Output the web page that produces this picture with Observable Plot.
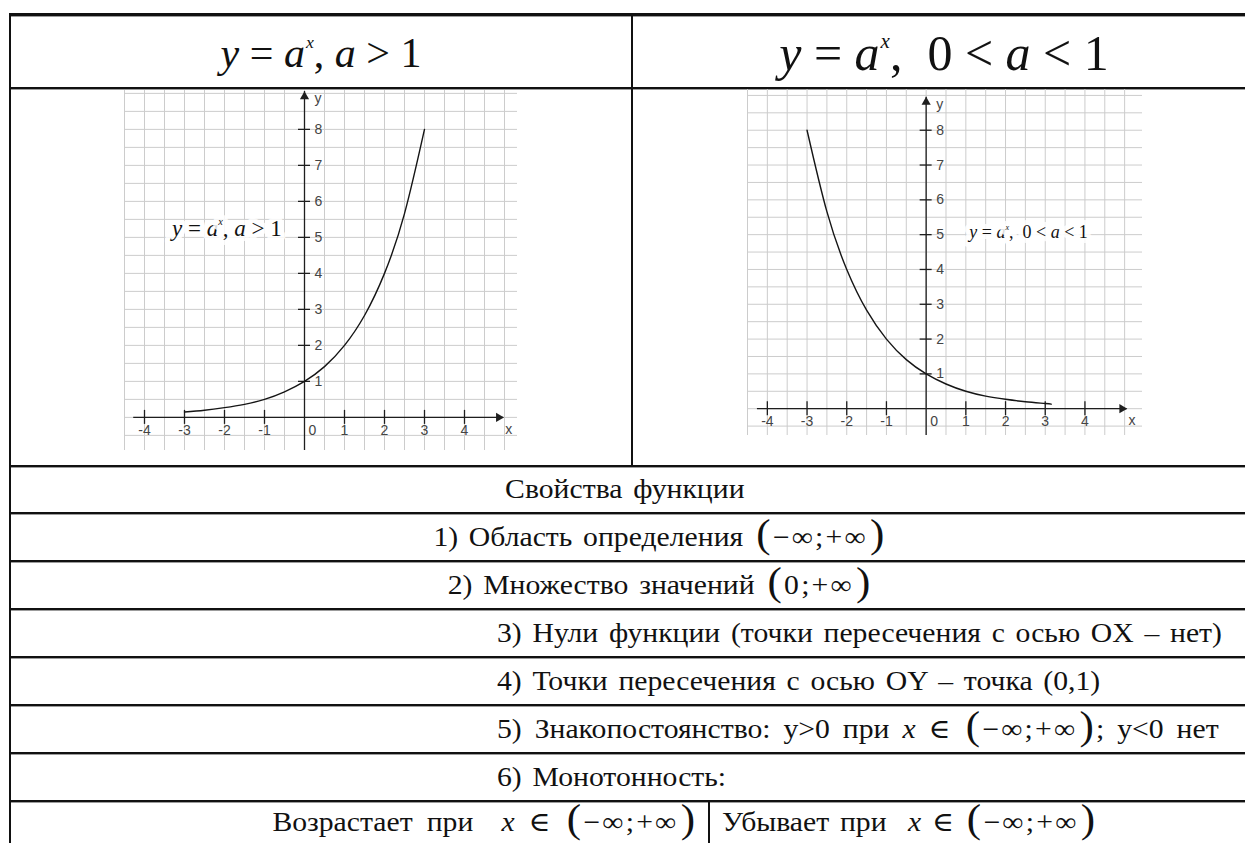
<!DOCTYPE html>
<html>
<head>
<meta charset="utf-8">
<script src="https://cdn.jsdelivr.net/npm/d3@7"></script>
<script src="https://cdn.jsdelivr.net/npm/@observablehq/plot@0.6"></script>
<style>
  html, body { margin: 0; padding: 0; background: #fff; }
  #page { position: relative; width: 1245px; height: 843px; overflow: hidden; color: #111; }
  #page, .row, .title, i { font-family: 'Liberation Serif', 'DejaVu Serif', serif; }
  .hl { position: absolute; left: 9px; right: -20px; height: 2px; background: #111; box-shadow: 0 1px 0 #9c9c9c; }
  .vl { position: absolute; width: 2px; background: #111; }
  .row { position: absolute; display: flex; align-items: center; white-space: nowrap; font-size: 27px; word-spacing: 3px; }
  .sx { display: inline-block; transform: scaleX(1.1); }
  .title { position: absolute; display: flex; align-items: center; justify-content: center; white-space: nowrap; }
  .sup { font-style: italic; font-size: 0.42em; position: relative; top: -1.05em; margin-left: 1px; }
  .bp { font-size: 1.45em; line-height: 0; position: relative; top: 0.03em; margin: 0 2px; }
  .iv { letter-spacing: 2px; }
  .chart { position: absolute; }
</style>
</head>
<body>
<div id="page"></div>
<script>
// Sample points of y = a^x for a > 1 (growth) and 0 < a < 1 (decay)
const growthX = [-3, -2.5, -2, -1.5, -1, -0.5, 0, 0.5, 1, 1.5, 2, 2.5, 3];
const growthY = [0.15, 0.2, 0.27, 0.36, 0.5, 0.71, 1, 1.41, 2, 2.83, 4, 5.66, 8];
const decayX = [-3, -2.5, -2, -1.5, -1, -0.5, 0, 0.5, 1, 1.5, 2, 2.5, 3, 3.15];
const decayY = [8, 5.66, 4, 2.83, 2, 1.41, 1, 0.71, 0.5, 0.36, 0.27, 0.2, 0.15, 0.13];

// Axis tick labels
const xTickValues = [-4, -3, -2, -1, 1, 2, 3, 4];
const yTickValues = [1, 2, 3, 4, 5, 6, 7, 8];

// Chart annotations
const growthLabel = "y = aˣ, a > 1";
const decayLabel = "y = aˣ,  0 < a < 1";

// Table text
const propertiesHeading = "Свойства функции";
const propertyRows = [
  "1) Область определения (−∞;+∞)",
  "2) Множество значений (0;+∞)",
  "3) Нули функции (точки пересечения с осью OX – нет)",
  "4) Точки пересечения с осью OY – точка (0,1)",
  "5) Знакопостоянство: y>0 при x ∈ (−∞;+∞); y<0 нет",
  "6) Монотонность:"
];
const monotonicLeft = "Возрастает при x ∈ (−∞;+∞)";
const monotonicRight = "Убывает при x ∈ (−∞;+∞)";

const page = document.getElementById("page");

function esc(s) {
  return s.replace(/&/g, "&amp;").replace(/</g, "&lt;").replace(/>/g, "&gt;");
}
// The variable x is italic, interval notation gets tall brackets
function formatMath(s, gap) {
  const g = "&nbsp;".repeat(gap || 1);
  let h = esc(s);
  h = h.replace(/ x ∈ /g, g + "<i>x</i>&nbsp;∈ ");
  h = h.replace(/ \((−∞;\+∞|0;\+∞)\)/g, '&nbsp;<span class="bp">(</span><span class="iv">$1</span><span class="bp">)</span>');
  return h;
}
// Formula with italic letters and a superscript exponent
function formulaHTML(s) {
  let out = "";
  for (const ch of s) {
    if (ch === "ˣ") out += '<span class="sup">x</span>';
    else if (ch === "y" || ch === "a") out += "<i>" + ch + "</i>";
    else if (ch === " ") out += "&nbsp;";
    else out += esc(ch);
  }
  return out;
}

function add(cls, styles, html) {
  const d = document.createElement("div");
  d.className = cls;
  Object.assign(d.style, styles);
  if (html != null) d.innerHTML = html;
  page.appendChild(d);
  return d;
}
// One inline block per cell, widened slightly like the typeset table text
function cellText(html, origin) {
  return '<span class="sx" style="transform-origin:' + origin + ' center">' + html + "</span>";
}

// Table rules
const rowLines = [13, 87, 465, 512, 560, 608, 656, 704, 752, 800];
rowLines.forEach((y, i) => add("hl", {top: y + "px", height: i === 0 ? "3px" : "2px"}));
add("vl", {left: "9px", top: "13px", height: "830px"});
add("vl", {left: "631px", top: "13px", height: "453px"});
add("vl", {left: "708px", top: "800px", height: "43px"});

// Header formulas
add("title", {left: "11px", width: "620px", top: "17px", height: "72px", fontSize: "42px"}, "<span>" + formulaHTML(growthLabel) + "</span>");
add("title", {left: "633px", width: "622px", top: "17px", height: "72px", fontSize: "50px"}, "<span>" + formulaHTML(decayLabel) + "</span>");

// Properties rows
add("row", {left: "25px", width: "1200px", top: "467px", height: "45px", justifyContent: "center"}, cellText(esc(propertiesHeading), "center"));
propertyRows.forEach((text, i) => {
  const top = rowLines[i + 3] + 2;
  const h = rowLines[i + 4] - top;
  const extra = i === 4 ? {wordSpacing: "5px"} : {};
  if (i < 2) add("row", {left: "360px", width: "600px", top: top + "px", height: h + "px", justifyContent: "center"}, cellText(formatMath(text), "center"));
  else add("row", {left: "497px", top: top + "px", height: h + "px", ...extra}, cellText(formatMath(text), "left"));
});
add("row", {left: "11px", width: "686px", top: "801px", height: "41px", justifyContent: "flex-end", wordSpacing: "6px"}, cellText(formatMath(monotonicLeft, 2), "right"));
add("row", {left: "722px", top: "801px", height: "41px"}, cellText(formatMath(monotonicRight, 2), "left"));

// Italicise the letters of an in-chart formula label and raise its exponent
function typesetLabel(svg, label, size) {
  d3.select(svg).selectAll("text").filter(function () { return this.textContent === label; }).each(function () {
    const t = d3.select(this);
    t.text(null);
    let raised = false;
    for (const ch of label) {
      const span = t.append("tspan");
      if (ch === "ˣ") {
        span.text("x").attr("font-style", "italic").attr("font-size", size * 0.45).attr("dy", -size * 0.45);
        raised = true;
        continue;
      }
      if (raised) { span.attr("dy", size * 0.45); raised = false; }
      span.text(ch === " " ? "\u00a0" : ch);
      if (ch === "y" || ch === "a") span.attr("font-style", "italic");
    }
  });
}

function expChart(c) {
  const gridX = d3.range(Math.ceil(c.xDomain[0] * 2) / 2, c.xDomain[1] + 1e-9, 0.5);
  const gridY = d3.range(Math.ceil(c.yDomain[0] * 2) / 2, c.yDomain[1] + 1e-9, 0.5);
  const kx = c.width / (c.xDomain[1] - c.xDomain[0]);
  const ky = c.height / (c.yDomain[1] - c.yDomain[0]);
  const curve = c.xs.map((x, i) => ({x, y: c.ys[i]}));
  const tickFont = {fontFamily: "Liberation Sans, Arial, sans-serif", fontSize: 14, fill: "#444"};
  const svg = Plot.plot({
    width: c.width,
    height: c.height,
    margin: 0,
    style: {background: "transparent", overflow: "visible"},
    x: {domain: c.xDomain, axis: null},
    y: {domain: c.yDomain, axis: null},
    marks: [
      Plot.ruleX(gridX, {stroke: "#cccccc", strokeWidth: 1}),
      Plot.ruleY(gridY, {stroke: "#cccccc", strokeWidth: 1}),
      Plot.ruleY([0], {x1: c.xAxis[0], x2: c.xAxis[1], stroke: "#1e1e1e", strokeWidth: 1.3}),
      Plot.ruleX([0], {y1: c.yAxis[0], y2: c.yAxis[1], stroke: "#1e1e1e", strokeWidth: 1.3}),
      Plot.ruleX(xTickValues, {x: d => d, y1: -7 / ky, y2: 7 / ky, stroke: "#1e1e1e", strokeWidth: 1.3}),
      Plot.ruleY(yTickValues, {y: d => d, x1: -6 / kx, x2: 6 / kx, stroke: "#1e1e1e", strokeWidth: 1.3}),
      Plot.dot([0], {x: c.xAxis[1], y: 0, dx: -5, symbol: "triangle", r: 3.4, rotate: 90, fill: "#1e1e1e", stroke: null}),
      Plot.dot([0], {x: 0, y: c.yAxis[1], dy: 5, symbol: "triangle", r: 3.4, fill: "#1e1e1e", stroke: null}),
      Plot.text(xTickValues, {x: d => d, y: 0, dy: 13, text: d => String(d), ...tickFont}),
      Plot.text([0], {x: 0, y: 0, dx: 8, dy: 13, text: d => String(d), ...tickFont}),
      Plot.text(yTickValues, {x: 0, y: d => d, dx: 10, textAnchor: "start", text: d => String(d), ...tickFont}),
      Plot.text(["y"], {x: 0, y: c.yAxis[1], dx: 10, dy: 7, textAnchor: "start", text: d => d, ...tickFont}),
      Plot.text(["x"], {x: c.xAxis[1], y: 0, dx: 5, dy: 12, text: d => d, ...tickFont}),
      Plot.line(curve, {x: "x", y: "y", curve: "natural", stroke: "#151515", strokeWidth: 1.4}),
      Plot.text([c.label], {x: c.labelX, y: c.labelY, text: d => d, fontFamily: "Liberation Serif, DejaVu Serif, serif",
        fontSize: c.labelSize, fill: "#111", stroke: "white", strokeWidth: 10, strokeOpacity: 0.85, paintOrder: "stroke"})
    ]
  });
  typesetLabel(svg, c.label, c.labelSize);
  svg.classList.add("chart");
  svg.style.left = c.left + "px";
  svg.style.top = c.top + "px";
  page.appendChild(svg);
}

expChart({
  xs: growthX, ys: growthY, label: growthLabel,
  left: 124, top: 90, width: 393, height: 360,
  xDomain: [-4.5, 5.325], yDomain: [-0.92, 9.08],
  xAxis: [-4.27, 4.98], yAxis: [-0.92, 9.05],
  labelX: -1.94, labelY: 5.25, labelSize: 23
});

expChart({
  xs: decayX, ys: decayY, label: decayLabel,
  left: 747, top: 89, width: 395, height: 346,
  xDomain: [-4.5, 5.45], yDomain: [-0.77, 9.17],
  xAxis: [-4.25, 5.06], yAxis: [-0.77, 8.95],
  labelX: 2.58, labelY: 5.07, labelSize: 18
});
</script>
</body>
</html>
